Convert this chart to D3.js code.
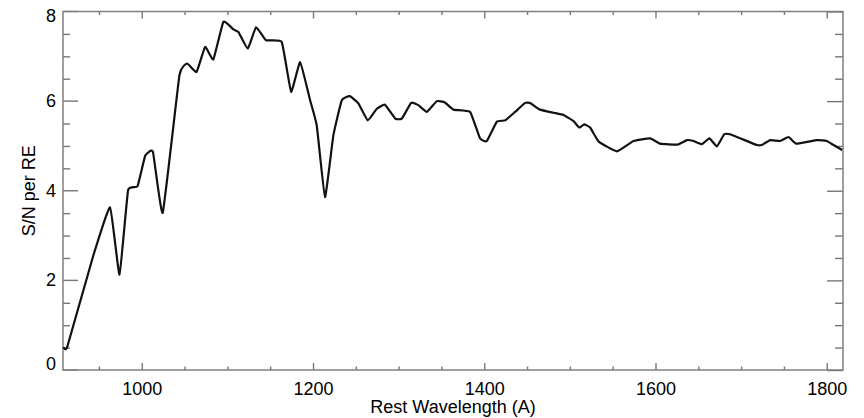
<!DOCTYPE html>
<html>
<head>
<meta charset="utf-8">
<script src="https://cdn.jsdelivr.net/npm/d3@7"></script>
<style>
  body { margin: 0; background: #fff; }
  svg { display: block; }
  text { font-family: "Liberation Sans", Arial, Helvetica, sans-serif; fill: #000; }
</style>
</head>
<body>
<svg id="svg_sn" width="864" height="418"></svg>
<script>
// rest wavelength (A) and S/N per resolution element
var wavelength = [908.4, 913, 943.5, 963, 974, 984, 995, 1004, 1013, 1024.5,
    1044, 1053, 1064, 1074, 1083.6, 1095.3, 1107, 1113, 1123.8, 1133.5,
    1145, 1163.5, 1174.4, 1185, 1196.6, 1204.4, 1214, 1223.8, 1233.6, 1243,
    1253, 1264, 1274.5, 1284, 1296, 1303.7, 1314.6, 1323, 1333, 1344.6,
    1354, 1364, 1383.5, 1395, 1403, 1414.7, 1424.4, 1436, 1447.8, 1453.6,
    1465, 1481, 1492.5, 1504, 1511, 1516.7, 1523.7, 1534, 1555, 1574.3,
    1593.8, 1605.5, 1625.7, 1636.7, 1644.4, 1654.2, 1663, 1671.7, 1680.3, 1687,
    1699, 1718.5, 1724, 1734, 1745.6, 1755.4, 1764.4, 1788.5, 1800, 1808, 1818];
var snr = [0.51, 0.52, 2.56, 3.63, 2.13, 4.01, 4.10, 4.78, 4.87, 3.51,
    6.58, 6.84, 6.65, 7.21, 6.93, 7.77, 7.60, 7.54, 7.17, 7.65,
    7.36, 7.32, 6.21, 6.87, 6.02, 5.45, 3.86, 5.24, 6.02, 6.11,
    5.95, 5.57, 5.83, 5.92, 5.61, 5.61, 5.96, 5.91, 5.76, 6.00,
    5.97, 5.81, 5.76, 5.17, 5.11, 5.54, 5.57, 5.76, 5.96, 5.96,
    5.81, 5.74, 5.69, 5.56, 5.41, 5.48, 5.41, 5.09, 4.88, 5.11,
    5.17, 5.05, 5.03, 5.13, 5.11, 5.04, 5.17, 4.99, 5.26, 5.26,
    5.17, 5.02, 5.02, 5.13, 5.11, 5.20, 5.05, 5.13, 5.11, 5.02, 4.91];

var xMajor = [1000, 1200, 1400, 1600, 1800];
var xMinor = [950, 1050, 1100, 1150, 1250, 1300, 1350, 1450, 1500, 1550, 1650, 1700, 1750];
var yMajor = [0, 2, 4, 6, 8];
var yMinor = [0.5, 1, 1.5, 2.5, 3, 3.5, 4.5, 5, 5.5, 6.5, 7, 7.5];

var svg = d3.select("#svg_sn"),
    margin = {top: 11.5, right: 21, bottom: 48, left: 63},
    width = +svg.attr("width") - margin.left - margin.right,
    height = +svg.attr("height") - margin.top - margin.bottom;

var x = d3.scaleLinear().domain([908, 1819]).range([0, width]),
    y = d3.scaleLinear().domain([0, 8]).range([height, 0]);

var g = svg.append("g")
    .attr("transform", "translate(" + margin.left + "," + margin.top + ")");

function styleAxis(sel) {
    sel.select(".domain").remove();
    sel.selectAll(".tick line").attr("stroke", "#777").attr("stroke-width", 1.4);
}

// minor ticks, all four sides
g.append("g").attr("transform", "translate(0," + height + ")")
    .call(d3.axisBottom(x).tickValues(xMinor).tickSize(-3.5).tickFormat(""))
    .call(styleAxis);
g.append("g")
    .call(d3.axisTop(x).tickValues(xMinor).tickSize(-3.5).tickFormat(""))
    .call(styleAxis);
g.append("g")
    .call(d3.axisLeft(y).tickValues(yMinor).tickSize(-7).tickFormat(""))
    .call(styleAxis);
g.append("g").attr("transform", "translate(" + width + ",0)")
    .call(d3.axisRight(y).tickValues(yMinor).tickSize(-8).tickFormat(""))
    .call(styleAxis);

// major ticks
var xAxis = g.append("g").attr("class", "axis axis--x")
    .attr("transform", "translate(0," + height + ")")
    .call(d3.axisBottom(x).tickValues(xMajor).tickSize(-7).tickPadding(12).tickFormat(d3.format("d")))
    .call(styleAxis);
xAxis.selectAll("text").style("font-size", "18px").attr("fill", "#000");

g.append("g")
    .call(d3.axisTop(x).tickValues(xMajor).tickSize(-7).tickFormat(""))
    .call(styleAxis);

// end labels are nudged inside the frame, as in the original
function labelY(d) { return Math.min(Math.max(y(d), 4.5), height - 5.5); }

var yAxis = g.append("g").attr("class", "axis axis--y")
    .call(d3.axisLeft(y).tickValues(yMajor).tickSize(-15).tickPadding(8).tickFormat(d3.format("d")))
    .call(styleAxis);
yAxis.selectAll(".tick")
    .attr("transform", function(d) { return "translate(0," + labelY(d) + ")"; })
    .select("line")
    .attr("y1", function(d) { return y(d) - labelY(d); })
    .attr("y2", function(d) { return y(d) - labelY(d); });
yAxis.selectAll("text").style("font-size", "18px").attr("fill", "#000").attr("x", -7);

g.append("g").attr("transform", "translate(" + width + ",0)")
    .call(d3.axisRight(y).tickValues(yMajor).tickSize(-16).tickFormat(""))
    .call(styleAxis);

// frame
g.append("rect")
    .attr("width", width).attr("height", height)
    .attr("fill", "none").attr("stroke", "#808080").attr("stroke-width", 1.5);

// the S/N curve
var line = d3.line()
    .curve(d3.curveCardinal.tension(0.65))
    .x(function(d, i) { return x(wavelength[i]); })
    .y(function(d) { return y(d); });

g.append("path")
    .datum(snr)
    .attr("fill", "none")
    .attr("stroke", "#111")
    .attr("stroke-width", 2.2)
    .attr("stroke-linejoin", "round")
    .attr("d", line);

// axis titles
svg.append("text")
    .attr("x", margin.left + width / 2)
    .attr("y", 413)
    .attr("text-anchor", "middle")
    .style("font-size", "18px")
    .text("Rest Wavelength (A)");

svg.append("text")
    .attr("transform", "translate(35," + (margin.top + height / 2) + ") rotate(-90)")
    .attr("text-anchor", "middle")
    .style("font-size", "18px")
    .text("S/N per RE");
</script>
</body>
</html>
